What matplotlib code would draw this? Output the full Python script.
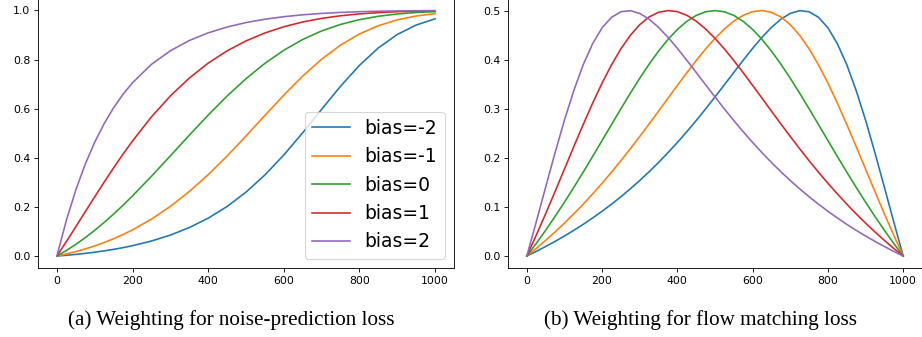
import matplotlib
matplotlib.use("Agg")
import matplotlib.pyplot as plt

# timesteps sampled for the noise-prediction panel
t_noise = [0, 25, 50, 75, 100, 125, 150, 175, 200, 250, 300, 350, 400, 450,
           500, 550, 600, 650, 700, 750, 800, 850, 900, 950, 1000]

noise_m2 = [0, 0.0031, 0.0067, 0.0108, 0.0156, 0.0210, 0.0272, 0.0341, 0.0421,
            0.0611, 0.0853, 0.1158, 0.1541, 0.2017, 0.2601, 0.3301, 0.4115,
            0.5021, 0.5975, 0.6913, 0.7764, 0.8475, 0.9020, 0.9405, 0.9659]
noise_m1 = [0, 0.0084, 0.0180, 0.0289, 0.0413, 0.0551, 0.0705, 0.0877, 0.1066,
            0.1503, 0.2022, 0.2626, 0.3313, 0.4073, 0.4887, 0.5726, 0.6553,
            0.7327, 0.8014, 0.8589, 0.9042, 0.9379, 0.9616, 0.9773, 0.9872]
noise_0 = [0, 0.0225, 0.0475, 0.0749, 0.1047, 0.1368, 0.1710, 0.2071, 0.2450,
           0.3247, 0.4079, 0.4918, 0.5738, 0.6513, 0.7220, 0.7845, 0.8378,
           0.8817, 0.9165, 0.9430, 0.9625, 0.9762, 0.9855, 0.9915, 0.9952]
noise_p1 = [0, 0.0589, 0.1193, 0.1804, 0.2412, 0.3010, 0.3592, 0.4152, 0.4686,
            0.5666, 0.6519, 0.7246, 0.7854, 0.8354, 0.8759, 0.9082, 0.9335,
            0.9530, 0.9676, 0.9782, 0.9859, 0.9911, 0.9946, 0.9969, 0.9982]
noise_p2 = [0, 0.1454, 0.2692, 0.3743, 0.4636, 0.5394, 0.6039, 0.6588, 0.7057,
            0.7804, 0.8358, 0.8774, 0.9087, 0.9324, 0.9505, 0.9642, 0.9745,
            0.9822, 0.9878, 0.9919, 0.9948, 0.9967, 0.9980, 0.9988, 0.9994]

# timesteps sampled for the flow matching panel
t_flow = [0, 25, 50, 75, 100, 125, 150, 175, 200, 225, 250, 275, 300, 325,
          350, 375, 400, 425, 450, 475, 500, 525, 550, 575, 600, 625, 650,
          675, 700, 725, 750, 775, 800, 825, 850, 875, 900, 925, 950, 975, 1000]

flow_m2 = [0, 0.0094, 0.0194, 0.0298, 0.0408, 0.0524, 0.0646, 0.0776, 0.0912,
           0.1056, 0.1208, 0.1369, 0.1538, 0.1717, 0.1906, 0.2105, 0.2313,
           0.2532, 0.2760, 0.2996, 0.3240, 0.3489, 0.3740, 0.3989, 0.4230,
           0.4456, 0.4658, 0.4824, 0.4942, 0.4998, 0.4976, 0.4863, 0.4649,
           0.4327, 0.3900, 0.3374, 0.2768, 0.2102, 0.1402, 0.0694, 0]
flow_m1 = [0, 0.0155, 0.0319, 0.0491, 0.0671, 0.0860, 0.1058, 0.1266, 0.1482,
           0.1708, 0.1942, 0.2185, 0.2435, 0.2691, 0.2951, 0.3214, 0.3475,
           0.3733, 0.3982, 0.4218, 0.4434, 0.4625, 0.4784, 0.4904, 0.4978,
           0.5000, 0.4965, 0.4870, 0.4713, 0.4496, 0.4221, 0.3894, 0.3523,
           0.3116, 0.2682, 0.2232, 0.1772, 0.1313, 0.0861, 0.0422, 0]
flow_0 = [0, 0.0256, 0.0525, 0.0806, 0.1098, 0.1400, 0.1711, 0.2030, 0.2353,
          0.2678, 0.3000, 0.3316, 0.3621, 0.3909, 0.4174, 0.4412, 0.4615,
          0.4780, 0.4901, 0.4975, 0.5000, 0.4975, 0.4901, 0.4780, 0.4615,
          0.4412, 0.4174, 0.3909, 0.3621, 0.3316, 0.3000, 0.2678, 0.2353,
          0.2030, 0.1711, 0.1400, 0.1098, 0.0806, 0.0525, 0.0256, 0]
flow_p1 = [0, 0.0422, 0.0861, 0.1313, 0.1772, 0.2232, 0.2682, 0.3116, 0.3523,
           0.3894, 0.4221, 0.4496, 0.4713, 0.4870, 0.4965, 0.5000, 0.4978,
           0.4904, 0.4784, 0.4625, 0.4434, 0.4218, 0.3982, 0.3733, 0.3475,
           0.3214, 0.2951, 0.2691, 0.2435, 0.2185, 0.1942, 0.1708, 0.1482,
           0.1266, 0.1058, 0.0860, 0.0671, 0.0491, 0.0319, 0.0155, 0]
flow_p2 = [0, 0.0694, 0.1402, 0.2102, 0.2768, 0.3374, 0.3900, 0.4327, 0.4649,
           0.4863, 0.4976, 0.4998, 0.4942, 0.4824, 0.4658, 0.4456, 0.4230,
           0.3989, 0.3740, 0.3489, 0.3240, 0.2996, 0.2760, 0.2532, 0.2313,
           0.2105, 0.1906, 0.1717, 0.1538, 0.1369, 0.1208, 0.1056, 0.0912,
           0.0776, 0.0646, 0.0524, 0.0408, 0.0298, 0.0194, 0.0094, 0]

labels = ['bias=-2', 'bias=-1', 'bias=0', 'bias=1', 'bias=2']
noise_curves = [noise_m2, noise_m1, noise_0, noise_p1, noise_p2]
flow_curves = [flow_m2, flow_m1, flow_0, flow_p1, flow_p2]

W, H = 922, 337
fig = plt.figure(figsize=(W / 78, H / 78), dpi=78)

# axes extend slightly past the top of the canvas (cropped figure)
ax1 = fig.add_axes([38 / W, 68.7 / H, 416 / W, 270 / H])
ax2 = fig.add_axes([508 / W, 68.7 / H, 414 / W, 270 / H])

for vals, lab in zip(noise_curves, labels):
    ax1.plot(t_noise, vals, label=lab)
for vals, lab in zip(flow_curves, labels):
    ax2.plot(t_flow, vals, label=lab)

ax1.legend(loc='lower right', fontsize='xx-large')

for ax in (ax1, ax2):
    ax.set_xticks([0, 200, 400, 600, 800, 1000])

ax1.set_yticks([0.0, 0.2, 0.4, 0.6, 0.8, 1.0])
ax2.set_yticks([0.0, 0.1, 0.2, 0.3, 0.4, 0.5])

fig.text(231 / W, 12 / H, "(a) Weighting for noise-prediction loss",
         ha='center', va='baseline', family='Liberation Serif', fontsize=19.5)
fig.text(700 / W, 12 / H, "(b) Weighting for flow matching loss",
         ha='center', va='baseline', family='Liberation Serif', fontsize=19.5)

fig.savefig("out.png", dpi=78)
